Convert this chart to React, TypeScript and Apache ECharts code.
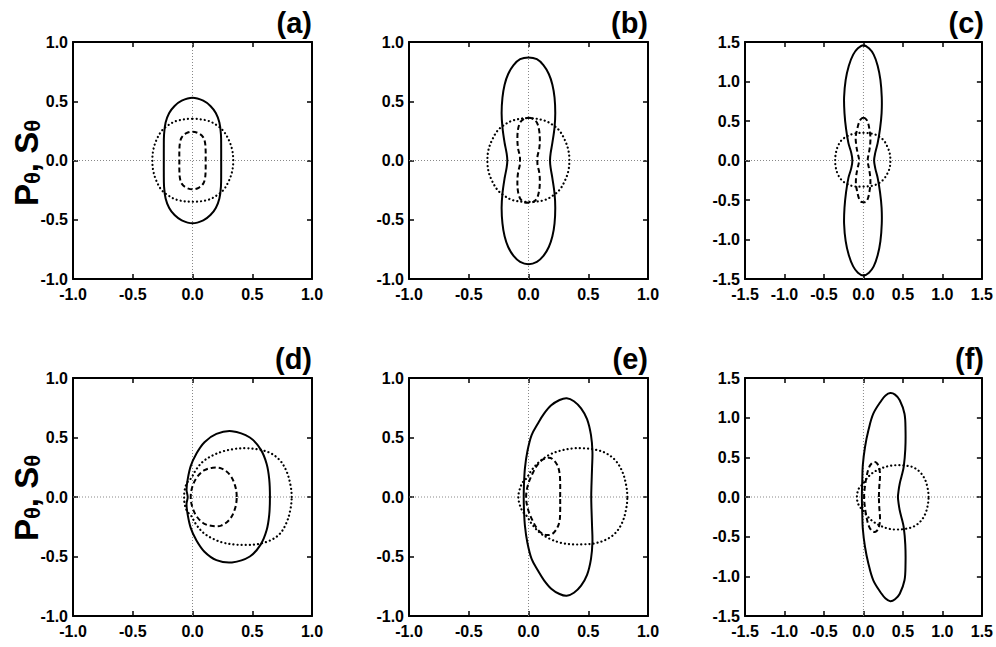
import React, { useEffect, useRef } from "react";
import * as echarts from "echarts";

// ---------- data ----------
const PANEL_LABELS = ["(a)", "(b)", "(c)", "(d)", "(e)", "(f)"];
const PANEL_RANGES = [1, 1, 1.5, 1, 1, 1.5];
const TICK_STEP = 0.5;

// closed loops (last point joins back to first)
const solidA = [[0,0.53],[0.09,0.505],[0.15,0.46],[0.195,0.4],[0.225,0.32],[0.238,0.22],[0.24,0.1],[0.24,0],[0.24,-0.1],[0.238,-0.22],[0.225,-0.32],[0.195,-0.4],[0.15,-0.46],[0.09,-0.505],[0,-0.53],[-0.09,-0.505],[-0.15,-0.46],[-0.195,-0.4],[-0.225,-0.32],[-0.238,-0.22],[-0.24,-0.1],[-0.24,0],[-0.24,0.1],[-0.238,0.22],[-0.225,0.32],[-0.195,0.4],[-0.15,0.46],[-0.09,0.505]];
const dashedA = [[0,0.243],[0.055,0.228],[0.09,0.195],[0.105,0.15],[0.11,0.08],[0.11,0],[0.11,-0.08],[0.105,-0.15],[0.09,-0.195],[0.055,-0.228],[0,-0.243],[-0.055,-0.228],[-0.09,-0.195],[-0.105,-0.15],[-0.11,-0.08],[-0.11,0],[-0.11,0.08],[-0.105,0.15],[-0.09,0.195],[-0.055,0.228]];
const dottedA = [[0,0.352],[0.13,0.335],[0.21,0.293],[0.262,0.245],[0.305,0.17],[0.332,0.09],[0.341,0],[0.332,-0.09],[0.305,-0.17],[0.262,-0.245],[0.21,-0.29],[0.13,-0.332],[0,-0.348],[-0.13,-0.332],[-0.21,-0.29],[-0.262,-0.245],[-0.303,-0.17],[-0.328,-0.09],[-0.336,0],[-0.328,0.09],[-0.303,0.17],[-0.262,0.245],[-0.21,0.293],[-0.13,0.335]];

const solidB = [[0,0.87],[0.07,0.855],[0.125,0.805],[0.17,0.73],[0.2,0.64],[0.218,0.53],[0.224,0.4],[0.218,0.28],[0.2,0.15],[0.185,0.06],[0.18,0],[0.185,-0.06],[0.2,-0.15],[0.218,-0.28],[0.224,-0.4],[0.218,-0.53],[0.2,-0.64],[0.17,-0.73],[0.125,-0.805],[0.07,-0.855],[0,-0.875],[-0.07,-0.855],[-0.125,-0.805],[-0.17,-0.73],[-0.2,-0.64],[-0.218,-0.53],[-0.225,-0.4],[-0.218,-0.28],[-0.2,-0.15],[-0.183,-0.06],[-0.177,0],[-0.183,0.06],[-0.2,0.15],[-0.218,0.28],[-0.225,0.4],[-0.218,0.53],[-0.2,0.64],[-0.17,0.73],[-0.125,0.805],[-0.07,0.855]];
const dashedB = [[0,0.36],[0.04,0.35],[0.07,0.32],[0.088,0.26],[0.095,0.18],[0.09,0.1],[0.076,0.04],[0.074,0],[0.076,-0.04],[0.09,-0.1],[0.095,-0.18],[0.088,-0.26],[0.07,-0.32],[0.04,-0.35],[0,-0.356],[-0.04,-0.35],[-0.07,-0.32],[-0.088,-0.26],[-0.093,-0.18],[-0.087,-0.1],[-0.073,-0.04],[-0.071,0],[-0.073,0.04],[-0.087,0.1],[-0.093,0.18],[-0.088,0.26],[-0.07,0.32],[-0.04,0.35]];
const dottedB = [[0,0.358],[0.13,0.338],[0.21,0.296],[0.262,0.248],[0.305,0.17],[0.333,0.09],[0.342,0],[0.333,-0.09],[0.305,-0.17],[0.262,-0.245],[0.21,-0.292],[0.13,-0.335],[0,-0.35],[-0.13,-0.335],[-0.21,-0.292],[-0.262,-0.245],[-0.306,-0.17],[-0.335,-0.09],[-0.344,0],[-0.335,0.09],[-0.306,0.17],[-0.262,0.248],[-0.21,0.296],[-0.13,0.338]];

const solidC = [[0,1.46],[0.07,1.42],[0.13,1.34],[0.18,1.2],[0.215,1.02],[0.232,0.8],[0.23,0.6],[0.21,0.4],[0.18,0.22],[0.15,0.1],[0.135,0],[0.15,-0.1],[0.18,-0.22],[0.21,-0.4],[0.23,-0.6],[0.232,-0.8],[0.215,-1.02],[0.18,-1.2],[0.13,-1.34],[0.07,-1.42],[0,-1.455],[-0.07,-1.42],[-0.13,-1.34],[-0.185,-1.2],[-0.225,-1.02],[-0.245,-0.8],[-0.24,-0.6],[-0.22,-0.4],[-0.19,-0.22],[-0.155,-0.1],[-0.14,0],[-0.155,0.1],[-0.19,0.22],[-0.22,0.4],[-0.24,0.6],[-0.245,0.8],[-0.225,1.02],[-0.185,1.2],[-0.13,1.34],[-0.07,1.42]];
const dashedC = [[0,0.54],[0.035,0.52],[0.06,0.47],[0.075,0.4],[0.088,0.3],[0.085,0.2],[0.07,0.1],[0.056,0.03],[0.054,0],[0.056,-0.03],[0.07,-0.1],[0.085,-0.2],[0.088,-0.3],[0.075,-0.4],[0.06,-0.47],[0.035,-0.52],[0,-0.53],[-0.035,-0.52],[-0.06,-0.47],[-0.078,-0.4],[-0.095,-0.3],[-0.092,-0.2],[-0.075,-0.1],[-0.058,-0.03],[-0.056,0],[-0.058,0.03],[-0.075,0.1],[-0.092,0.2],[-0.098,0.3],[-0.078,0.4],[-0.06,0.47],[-0.035,0.52]];
const dottedC = [[0,0.35],[0.13,0.335],[0.21,0.295],[0.265,0.245],[0.305,0.17],[0.333,0.09],[0.341,0],[0.333,-0.09],[0.303,-0.165],[0.258,-0.235],[0.2,-0.285],[0.12,-0.318],[0,-0.33],[-0.13,-0.325],[-0.22,-0.29],[-0.283,-0.24],[-0.326,-0.17],[-0.35,-0.09],[-0.358,0],[-0.35,0.09],[-0.326,0.175],[-0.283,0.25],[-0.22,0.3],[-0.13,0.337]];

const solidD = [[0.648,0],[0.642,0.15],[0.62,0.28],[0.57,0.4],[0.48,0.5],[0.33,0.553],[0.2,0.53],[0.1,0.46],[0.03,0.36],[-0.015,0.26],[-0.04,0.15],[-0.05,0.06],[-0.04,0],[-0.05,-0.06],[-0.04,-0.15],[-0.015,-0.26],[0.03,-0.36],[0.1,-0.46],[0.2,-0.53],[0.33,-0.55],[0.48,-0.5],[0.57,-0.4],[0.62,-0.28],[0.642,-0.15]];
const dashedD = [[0.37,0],[0.355,0.1],[0.31,0.19],[0.24,0.24],[0.17,0.246],[0.1,0.225],[0.04,0.17],[0.0,0.09],[-0.015,0],[0.0,-0.09],[0.04,-0.17],[0.1,-0.225],[0.17,-0.244],[0.24,-0.24],[0.31,-0.19],[0.355,-0.1]];
const dottedD = [[0.83,0],[0.818,0.11],[0.785,0.22],[0.73,0.31],[0.65,0.37],[0.55,0.4],[0.45,0.41],[0.36,0.405],[0.26,0.385],[0.17,0.35],[0.09,0.3],[0.03,0.23],[-0.01,0.16],[-0.045,0.12],[-0.065,0.06],[-0.07,0],[-0.065,-0.06],[-0.045,-0.12],[-0.01,-0.16],[0.03,-0.23],[0.09,-0.3],[0.17,-0.35],[0.26,-0.385],[0.36,-0.4],[0.45,-0.403],[0.55,-0.395],[0.65,-0.365],[0.73,-0.31],[0.785,-0.22],[0.818,-0.11]];

const solidE = [[0.525,0],[0.527,0.1],[0.532,0.25],[0.535,0.38],[0.523,0.52],[0.49,0.655],[0.44,0.745],[0.38,0.805],[0.32,0.83],[0.26,0.815],[0.19,0.77],[0.13,0.7],[0.08,0.62],[0.026,0.52],[-0.01,0.38],[-0.03,0.24],[-0.038,0.1],[-0.04,0],[-0.038,-0.1],[-0.03,-0.24],[-0.01,-0.38],[0.026,-0.52],[0.08,-0.62],[0.13,-0.7],[0.19,-0.77],[0.26,-0.815],[0.32,-0.83],[0.38,-0.805],[0.44,-0.745],[0.49,-0.655],[0.523,-0.52],[0.535,-0.38],[0.532,-0.25],[0.527,-0.1]];
const dashedE = [[0.265,0],[0.265,0.12],[0.26,0.2],[0.24,0.27],[0.2,0.32],[0.165,0.33],[0.12,0.315],[0.075,0.27],[0.035,0.2],[-0.005,0.1],[-0.02,0],[-0.005,-0.1],[0.035,-0.2],[0.075,-0.27],[0.12,-0.31],[0.155,-0.32],[0.2,-0.31],[0.24,-0.26],[0.26,-0.2],[0.265,-0.12]];
const dottedE = [[0.827,0],[0.815,0.11],[0.782,0.22],[0.725,0.31],[0.645,0.37],[0.55,0.4],[0.45,0.41],[0.375,0.409],[0.27,0.39],[0.175,0.355],[0.095,0.3],[0.03,0.23],[-0.015,0.16],[-0.05,0.12],[-0.075,0.06],[-0.085,0],[-0.075,-0.06],[-0.05,-0.12],[-0.015,-0.16],[0.03,-0.23],[0.095,-0.3],[0.175,-0.35],[0.27,-0.385],[0.375,-0.398],[0.45,-0.398],[0.55,-0.39],[0.645,-0.36],[0.725,-0.305],[0.782,-0.22],[0.815,-0.11]];

const solidF = [[0.437,0],[0.445,0.08],[0.46,0.17],[0.485,0.27],[0.51,0.38],[0.53,0.6],[0.533,0.84],[0.52,1.05],[0.46,1.22],[0.4,1.29],[0.34,1.31],[0.28,1.28],[0.23,1.22],[0.125,1.05],[0.063,0.84],[0.02,0.63],[-0.008,0.4],[-0.015,0.2],[-0.02,0],[-0.015,-0.2],[-0.008,-0.4],[0.02,-0.63],[0.063,-0.84],[0.125,-1.05],[0.23,-1.22],[0.28,-1.28],[0.34,-1.315],[0.4,-1.29],[0.46,-1.22],[0.52,-1.05],[0.533,-0.84],[0.53,-0.6],[0.51,-0.38],[0.485,-0.27],[0.46,-0.17],[0.445,-0.08]];
const dashedF = [[0.196,0],[0.2,0.12],[0.21,0.27],[0.2,0.36],[0.175,0.42],[0.146,0.44],[0.11,0.43],[0.07,0.37],[0.04,0.26],[0.02,0.14],[0.01,0.05],[0.008,0],[0.01,-0.05],[0.02,-0.14],[0.04,-0.26],[0.07,-0.37],[0.11,-0.43],[0.146,-0.44],[0.175,-0.42],[0.2,-0.36],[0.21,-0.27],[0.2,-0.12]];
const dottedF = [[0.825,0],[0.813,0.11],[0.78,0.22],[0.72,0.31],[0.64,0.37],[0.54,0.395],[0.4,0.4],[0.3,0.385],[0.2,0.35],[0.11,0.3],[0.04,0.23],[-0.01,0.16],[-0.05,0.12],[-0.075,0.06],[-0.083,0],[-0.075,-0.06],[-0.05,-0.12],[-0.01,-0.16],[0.04,-0.23],[0.11,-0.3],[0.2,-0.355],[0.3,-0.395],[0.4,-0.41],[0.54,-0.4],[0.64,-0.37],[0.72,-0.31],[0.78,-0.22],[0.813,-0.11]];

const PANELS = [
  { solid: solidA, dashed: dashedA, dotted: dottedA },
  { solid: solidB, dashed: dashedB, dotted: dottedB },
  { solid: solidC, dashed: dashedC, dotted: dottedC },
  { solid: solidD, dashed: dashedD, dotted: dottedD },
  { solid: solidE, dashed: dashedE, dotted: dottedE },
  { solid: solidF, dashed: dashedF, dotted: dottedF },
];

// ---------- layout ----------
const COL_LEFT = [73, 409, 745];
const ROW_TOP = [42, 378];
const ROW_H = [237, 238];
const PLOT_W = 239;
const FONT = "'Liberation Sans', Arial, Helvetica, sans-serif";

function loopSeries(axisIdx: number, pts: number[][], style: any, z: number) {
  return {
    type: "custom",
    xAxisIndex: axisIdx,
    yAxisIndex: axisIdx,
    data: pts,
    encode: { x: 0, y: 1 },
    silent: true,
    z,
    renderItem: (params: any, api: any) => {
      if (params.dataIndex !== 0) return { type: "group", children: [] };
      return {
        type: "polygon",
        shape: { points: pts.map((p) => api.coord(p)), smooth: 0.35 },
        style: { fill: "none", stroke: "#000", ...style },
      };
    },
  };
}

function buildOption() {
  const grid: any[] = [];
  const xAxis: any[] = [];
  const yAxis: any[] = [];
  const series: any[] = [];
  const graphic: any[] = [];

  const labelStyle = {
    color: "#000",
    fontFamily: FONT,
    fontWeight: "bold",
    fontSize: 16,
    formatter: (v: number) => v.toFixed(1),
    interval: 0,
    showMinLabel: true,
    showMaxLabel: true,
  };

  PANELS.forEach((p, i) => {
    const col = i % 3;
    const row = Math.floor(i / 3);
    const left = COL_LEFT[col];
    const top = ROW_TOP[row];
    const height = ROW_H[row];
    const R = PANEL_RANGES[i];
    grid.push({ left, top, width: PLOT_W, height, containLabel: false });

    const common = {
      type: "value",
      gridIndex: i,
      min: -R,
      max: R,
      interval: TICK_STEP,
      splitLine: { show: false },
      axisLine: { show: true, onZero: false, lineStyle: { color: "#000", width: 2 } },
      axisTick: { show: true, inside: true, length: 5, lineStyle: { color: "#000", width: 1.5 } },
    };
    xAxis.push({ ...common, position: "bottom", axisLabel: { ...labelStyle, margin: 7 } });
    xAxis.push({ ...common, position: "top", axisLabel: { show: false } });
    yAxis.push({ ...common, position: "left", axisLabel: { ...labelStyle, margin: 5 } });
    yAxis.push({ ...common, position: "right", axisLabel: { show: false } });

    const xi = i * 2;
    const zero = { color: "#888", width: 1, type: [1, 2] };
    series.push({
      type: "line", xAxisIndex: xi, yAxisIndex: xi, data: [[-R, 0], [R, 0]],
      showSymbol: false, silent: true, lineStyle: zero, z: 1,
    });
    series.push({
      type: "line", xAxisIndex: xi, yAxisIndex: xi, data: [[0, -R], [0, R]],
      showSymbol: false, silent: true, lineStyle: zero, z: 1,
    });
    series.push(loopSeries(xi, p.dotted, { lineWidth: 2.2, lineDash: [0.1, 4], lineCap: "round" }, 2));
    series.push(loopSeries(xi, p.dashed, { lineWidth: 2, lineDash: [5, 3] }, 3));
    series.push(loopSeries(xi, p.solid, { lineWidth: 2 }, 4));

    graphic.push({
      type: "text",
      x: left + PLOT_W,
      y: top - 5,
      style: {
        text: PANEL_LABELS[i],
        fill: "#000",
        font: `bold 29px ${FONT}`,
        align: "right",
        verticalAlign: "bottom",
      },
    });
  });

  [163, 498].forEach((cy) => {
    graphic.push({
      type: "text",
      x: 25,
      y: cy,
      rotation: Math.PI / 2,
      style: {
        text: "{p|P}{s|θ}{p|, S}{s|θ}",
        fill: "#000",
        align: "center",
        verticalAlign: "middle",
        rich: {
          p: { fontSize: 33, fontWeight: "bold", fontFamily: FONT, fill: "#000", verticalAlign: "bottom", lineHeight: 36 },
          s: { fontSize: 22, fontWeight: "bold", fontFamily: FONT, fill: "#000", verticalAlign: "bottom", lineHeight: 36 },
        },
      },
    });
  });

  return { animation: false, backgroundColor: "#fff", grid, xAxis, yAxis, series, graphic };
}

export default function App() {
  const ref = useRef<HTMLDivElement>(null);
  useEffect(() => {
    if (!ref.current) return;
    const chart = echarts.init(ref.current, null, { renderer: "svg" });
    chart.setOption(buildOption() as any);
    return () => chart.dispose();
  }, []);
  return (
    <div
      ref={ref}
      style={{ position: "absolute", left: 0, top: 0, width: 996, height: 647, background: "#fff" }}
    />
  );
}
